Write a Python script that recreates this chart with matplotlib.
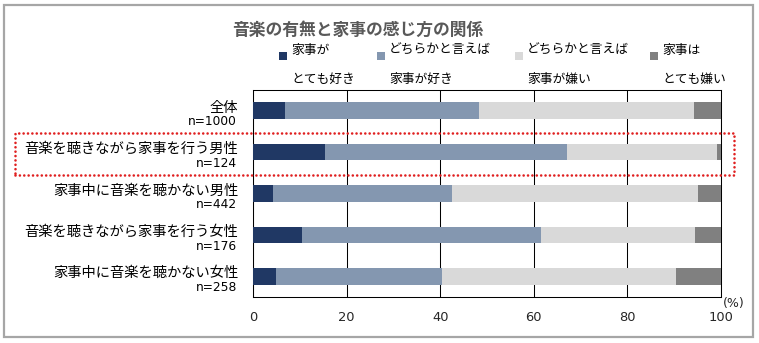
import matplotlib
matplotlib.use("Agg")
import matplotlib.pyplot as plt
from matplotlib.patches import Rectangle

plt.rcParams['font.family'] = ['Noto Sans CJK JP', 'DejaVu Sans']

# data (%)
groups = ["全体", "音楽を聴きながら家事を行う男性", "家事中に音楽を聴かない男性",
          "音楽を聴きながら家事を行う女性", "家事中に音楽を聴かない女性"]
sample_sizes = [1000, 124, 442, 176, 258]
very_like = [6.8, 15.3, 4.2, 10.5, 4.9]
rather_like = [41.5, 51.8, 38.3, 51.0, 35.5]
rather_dislike = [45.9, 32.0, 52.6, 32.9, 50.0]
very_dislike = [5.8, 0.9, 4.9, 5.6, 9.6]

legend_top = ["家事が", "どちらかと言えば", "どちらかと言えば", "家事は"]
legend_bottom = ["とても好き", "家事が好き", "家事が嫌い", "とても嫌い"]
colors = ["#203864", "#8497B0", "#D9D9D9", "#808080"]
xticks = [0, 20, 40, 60, 80, 100]

W, H = 759, 343
fig = plt.figure(figsize=(W / 100, H / 100), dpi=100)
ax = fig.add_axes([253 / W, (H - 297) / H, 468 / W, 207 / H])

series = [very_like, rather_like, rather_dislike, very_dislike]
y = list(range(len(groups)))
left = [0] * len(groups)
for vals, c in zip(series, colors):
    ax.barh(y, vals, left=left, height=0.4, color=c, zorder=3)
    left = [a + b for a, b in zip(left, vals)]

ax.set_xlim(0, 100)
ax.set_ylim(len(groups) - 0.5, -0.5)
ax.set_xticks(xticks)
ax.set_xticklabels([str(t) for t in xticks], family='DejaVu Sans', fontsize=9.4, color='#262626')
ax.tick_params(axis='x', length=0, pad=10)
ax.set_yticks([])
ax.grid(axis='x', color='black', linewidth=0.75, zorder=1)
for s in ax.spines.values():
    s.set_color('black')
    s.set_linewidth(0.75)

trans = ax.get_yaxis_transform()
for i, (name, n) in enumerate(zip(groups, sample_sizes)):
    ax.text(-0.032, i - 0.07, name, transform=trans, ha='right', va='center',
            fontsize=10.3, color='black')
    ax.text(-0.034, i + 0.27, f"n={n}", transform=trans, ha='right', va='center',
            fontsize=8.8, family='DejaVu Sans', color='black')

ax.text(1.004, -0.03, "(%)", transform=ax.transAxes, ha='left', va='center',
        fontsize=9, family='DejaVu Sans', color='#262626')

# title
fig.text(358 / W, 1 - 30 / H, "音楽の有無と家事の感じ方の関係", ha='center', va='center',
         fontsize=12.1, fontweight='bold', color='#595959')

# legend drawn by hand (two-line labels)
marker_x = [279, 377, 515, 650]
text_x = [291, 389, 527, 662]
for mx, tx, top, bot, c in zip(marker_x, text_x, legend_top, legend_bottom, colors):
    fig.add_artist(Rectangle((mx / W, 1 - 60 / H), 8 / W, 8 / H, transform=fig.transFigure,
                             facecolor=c, edgecolor='none'))
    fig.text(tx / W, 1 - 50 / H, top, ha='left', va='center', fontsize=9.2, color='black')
    fig.text(tx / W, 1 - 79 / H, bot, ha='left', va='center', fontsize=9.2, color='black')

# red dotted highlight box
fig.add_artist(Rectangle((15 / W, 1 - 175 / H), 719 / W, 42 / H, transform=fig.transFigure,
                         fill=False, edgecolor='#E02020', linewidth=1.9,
                         linestyle=(0, (0.01, 1.65)), capstyle='round', zorder=10))

# outer frame
fig.add_artist(Rectangle((4 / W, 1 - 337 / H), 749 / W, 332 / H, transform=fig.transFigure,
                         fill=False, edgecolor='#A6A6A6', linewidth=1.6))

fig.savefig("out.png", dpi=100)
